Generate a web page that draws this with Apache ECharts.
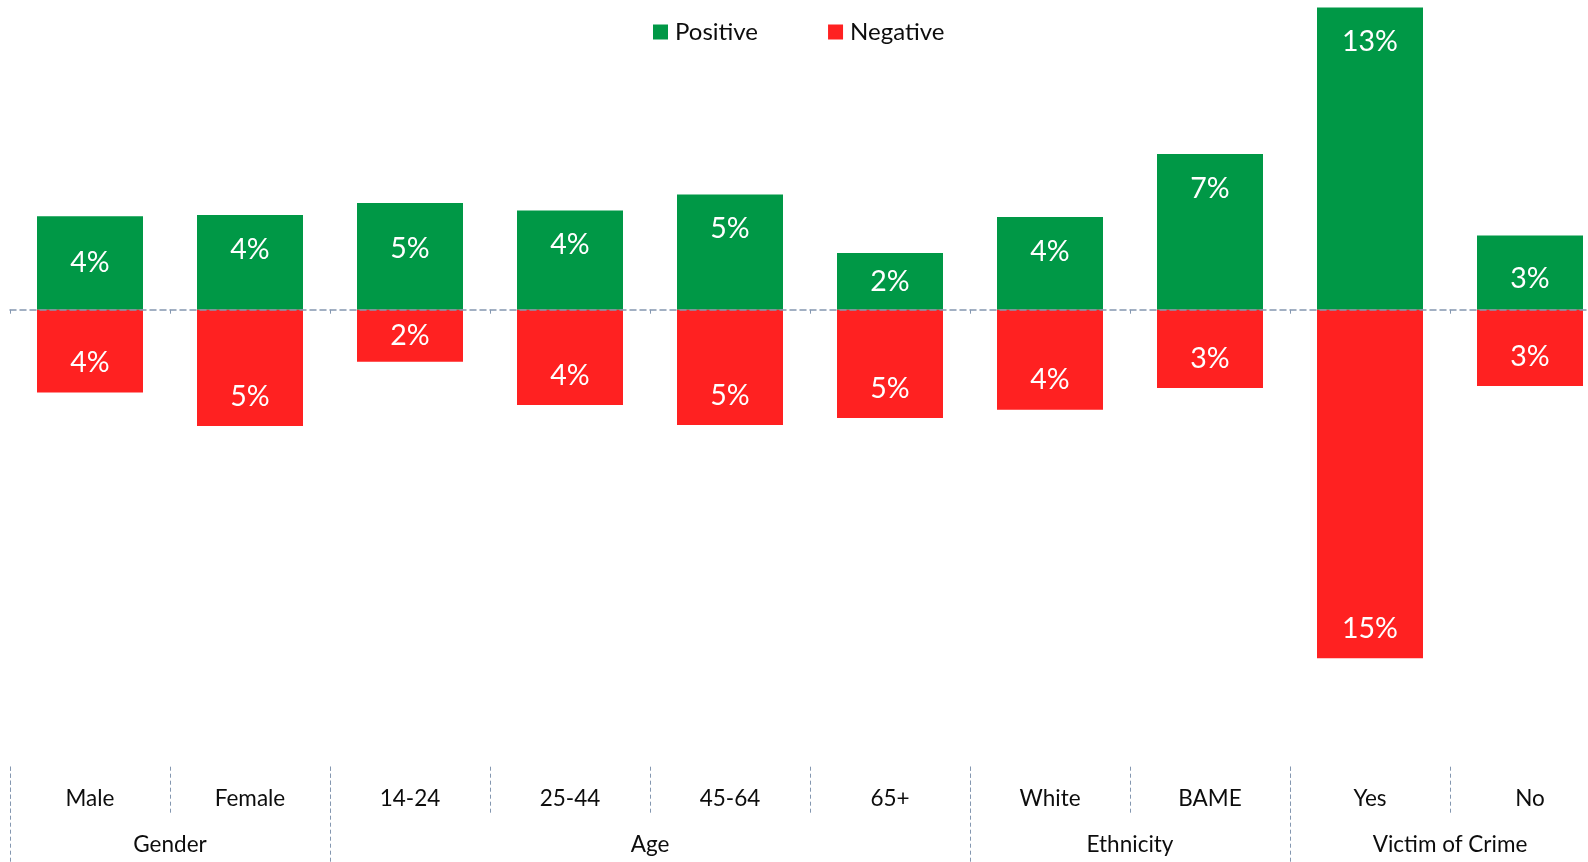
<!DOCTYPE html>
<html>
<head>
<meta charset="utf-8">
<script src="https://cdn.jsdelivr.net/npm/echarts@6/dist/echarts.min.js"></script>
<style>
html,body{margin:0;padding:0;background:#fff;}
#chart{width:1588px;height:862px;}
</style>
</head>
<body>
<div id="chart"></div>
<script>
// ---- data ----
var categories = ['Male', 'Female', '14-24', '25-44', '45-64', '65+', 'White', 'BAME', 'Yes', 'No'];
var positiveValues = [4.02, 4.07, 4.59, 4.27, 4.96, 2.44, 3.99, 6.70, 13.0, 3.19];
var negativeValues = [-3.56, -5.0, -2.24, -4.10, -4.96, -4.66, -4.30, -3.37, -15.0, -3.28];
var groupNames = ['Gender', 'Age', 'Ethnicity', 'Victim of Crime'];
var groupSizes = [2, 4, 2, 2];
var seriesNames = ['Positive', 'Negative'];

// ---- styling helpers ----
var FONT = 'Lato';
var GREEN = '#009846';
var RED = '#FF2121';
var LINE = '#8497B0';

// label placement exceptions (style only)
var posCentered = {'Male': true, '65+': true};
var posDeeper = {'14-24': 31, 'No': 29};
var negCentered = {'14-24': true};

var groupBounds = [0], groupCenters = [];
(function () {
  var acc = 0;
  for (var i = 0; i < groupSizes.length; i++) {
    groupCenters.push(acc + groupSizes[i] / 2);
    acc += groupSizes[i];
    groupBounds.push(acc);
  }
})();

function pct(p) { return Math.round(Math.abs(p.value)) + '%'; }

var posData = positiveValues.map(function (v, i) {
  var c = categories[i];
  var d = {value: v};
  if (posCentered[c]) d.label = {position: 'inside'};
  else if (posDeeper[c]) d.label = {distance: posDeeper[c]};
  return d;
});
var negData = negativeValues.map(function (v, i) {
  var c = categories[i];
  var d = {value: v};
  if (negCentered[c]) d.label = {position: 'inside'};
  return d;
});

var chart = echarts.init(document.getElementById('chart'), null, {renderer: 'canvas'});
chart.setOption({
  animation: false,
  backgroundColor: '#fff',
  textStyle: {fontFamily: FONT},
  legend: {
    data: seriesNames,
    left: 648,
    top: 15,
    icon: 'rect',
    itemWidth: 15,
    itemHeight: 15,
    itemGap: 70,
    textStyle: {fontFamily: FONT, fontSize: 24, color: '#0d0d0d', padding: [0, 0, 0, 2]}
  },
  grid: {left: 10, right: -22, top: 0, bottom: 95.3, containLabel: false, outerBoundsMode: 'none'},
  xAxis: [
    {
      type: 'category',
      data: categories,
      z: 5,
      axisLine: {onZero: true, lineStyle: {color: LINE, width: 1.5, type: [6, 4]}},
      axisTick: {show: true, length: 4, lineStyle: {color: LINE, width: 1}},
      axisLabel: {show: false},
      splitLine: {show: false}
    },
    {
      type: 'category',
      data: categories,
      position: 'bottom',
      axisLine: {show: false, onZero: false},
      axisTick: {show: true, length: 48, lineStyle: {color: LINE, width: 1, type: [4, 3]}},
      axisLabel: {show: true, fontFamily: FONT, fontSize: 22.5, color: '#0d0d0d', margin: 21},
      splitLine: {show: false}
    },
    {
      type: 'value',
      min: 0,
      max: groupBounds[groupBounds.length - 1],
      position: 'bottom',
      axisLine: {show: false, onZero: false},
      axisTick: {show: true, length: 96, customValues: groupBounds, lineStyle: {color: LINE, width: 1, type: [4, 3]}},
      axisLabel: {
        show: true, customValues: groupCenters, fontFamily: FONT, fontSize: 22.5, color: '#0d0d0d', margin: 67,
        formatter: function (v) {
          var idx = groupCenters.indexOf(v);
          return idx >= 0 ? groupNames[idx] : '';
        }
      },
      splitLine: {show: false}
    }
  ],
  yAxis: {
    type: 'value',
    min: -19.664,
    max: 13.326,
    show: false,
    splitLine: {show: false}
  },
  series: [
    {
      name: seriesNames[0],
      type: 'bar',
      stack: 'total',
      xAxisIndex: 0,
      barWidth: 106,
      itemStyle: {color: GREEN},
      label: {show: true, position: 'insideTop', distance: 20, color: '#fff', fontFamily: FONT, fontSize: 28.5, formatter: pct},
      data: posData
    },
    {
      name: seriesNames[1],
      type: 'bar',
      stack: 'total',
      xAxisIndex: 0,
      barWidth: 106,
      itemStyle: {color: RED},
      label: {show: true, position: 'insideBottom', distance: 15, color: '#fff', fontFamily: FONT, fontSize: 28.5, formatter: pct},
      data: negData
    }
  ]
});
</script>
</body>
</html>
